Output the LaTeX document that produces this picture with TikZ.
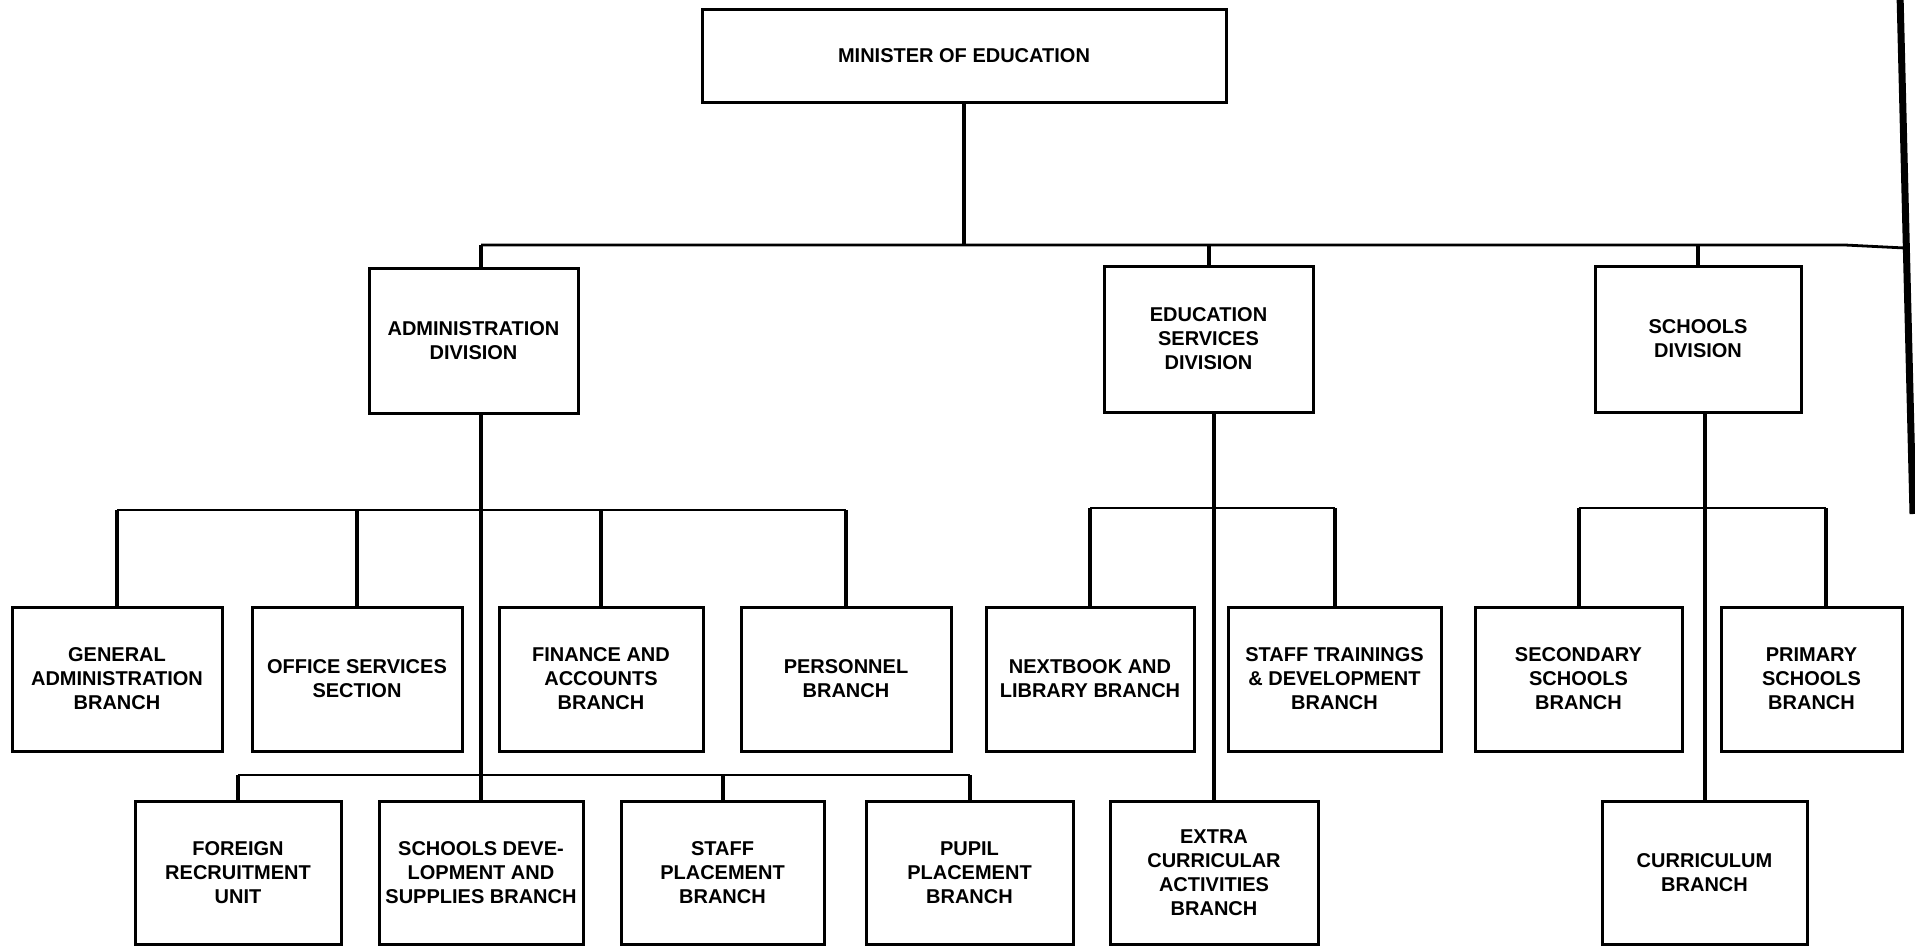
\documentclass[tikz,border=0pt]{standalone}
\usepackage{fontspec}
\setmainfont{Liberation Sans}
\tikzset{
  obox/.style={draw=black, line width=3pt, fill=white, rectangle, align=center, inner sep=2pt,
    font=\bfseries\fontsize{20}{24}\selectfont},
  bus/.style={draw=black, line width=2.8pt},
  drop/.style={draw=black, line width=4pt},
  edgeline/.style={draw=black, line width=7pt}
}
\newcommand\orgbox[6]{\node[obox, minimum width={(#4)-(#2)}, minimum height={(#5)-(#3)}] (#1) at ({((#2)+(#4))/2},{((#3)+(#5))/2}) {#6};}
\begin{document}
\begin{tikzpicture}[x=1pt,y=-1pt]
\useasboundingbox (0,0) rectangle (1915,948);
% boxes
\orgbox{min}{702}{9}{1226}{102}{MINISTER OF EDUCATION}
\orgbox{adm}{369}{268}{578}{413}{ADMINISTRATION\\DIVISION}
\orgbox{edu}{1104}{266}{1313}{412}{EDUCATION\\SERVICES\\DIVISION}
\orgbox{sch}{1595}{266}{1801}{412}{SCHOOLS\\DIVISION}
% row 1
\orgbox{ga}{12}{607}{222}{751}{GENERAL\\ADMINISTRATION\\BRANCH}
\orgbox{os}{252}{607}{462}{751}{OFFICE SERVICES\\SECTION}
\orgbox{fa}{499}{607}{703}{751}{FINANCE AND\\ACCOUNTS\\BRANCH}
\orgbox{pe}{741}{607}{951}{751}{PERSONNEL\\BRANCH}
\orgbox{tb}{986}{607}{1194}{751}{NEXTBOOK AND\\LIBRARY BRANCH}
\orgbox{st}{1228}{607}{1441}{751}{STAFF TRAININGS\\\& DEVELOPMENT\\BRANCH}
\orgbox{se}{1475}{607}{1682}{751}{SECONDARY\\SCHOOLS\\BRANCH}
\orgbox{pr}{1721}{607}{1902}{751}{PRIMARY\\SCHOOLS\\BRANCH}
% row 2
\orgbox{fr}{135}{801}{341}{944}{FOREIGN\\RECRUITMENT\\UNIT}
\orgbox{sds}{379}{801}{583}{944}{SCHOOLS DEVE-\\LOPMENT AND\\SUPPLIES BRANCH}
\orgbox{sp}{621}{801}{824}{944}{STAFF\\PLACEMENT\\BRANCH}
\orgbox{pp}{866}{801}{1073}{944}{PUPIL\\PLACEMENT\\BRANCH}
\orgbox{ec}{1110}{801}{1318}{944}{EXTRA\\CURRICULAR\\ACTIVITIES\\BRANCH}
\orgbox{cu}{1602}{801}{1807}{944}{CURRICULUM\\BRANCH}
% coordinates
\coordinate (tbus) at (481,245);
\coordinate (tbusK) at (1845,245);
\coordinate (tbusR) at (1905,248);
\coordinate (abus) at (0,510);
\coordinate (lbus) at (0,775);
\coordinate (ebus) at (0,508);
\coordinate (sbus) at (0,508);
\coordinate (pdrop) at (1826,508);
\coordinate (rtop) at (1900,-6);
\coordinate (rbot) at (1913,514);
% right edge line
\draw[edgeline] (rtop) -- (rbot);
% top level
\draw[drop] (min.south) -- (min.south |- tbus);
\draw[bus] (tbus) -- (tbusK) -- (tbusR);
\draw[drop] (tbus) -- (tbus |- adm.north);
\draw[drop] (edu.north |- tbus) -- (edu.north);
\draw[drop] (sch.north |- tbus) -- (sch.north);
% administration
\draw[drop] (sds.north |- adm.south) -- (sds.north);
\draw[bus] (abus -| ga.north) -- (abus -| pe.north);
\foreach \n in {ga,os,fa,pe} \draw[drop] (abus -| \n.north) -- (\n.north);
\draw[bus] (lbus -| fr.north) -- (lbus -| pp.north);
\foreach \n in {fr,sp,pp} \draw[drop] (lbus -| \n.north) -- (\n.north);
% education
\draw[drop] (ec.north |- edu.south) -- (ec.north);
\draw[bus] (ebus -| tb.north) -- (ebus -| st.north);
\foreach \n in {tb,st} \draw[drop] (ebus -| \n.north) -- (\n.north);
% schools
\draw[drop] (cu.north |- sch.south) -- (cu.north);
\draw[bus] (sbus -| se.north) -- (pdrop);
\draw[drop] (sbus -| se.north) -- (se.north);
\draw[drop] (pdrop) -- (pdrop |- pr.north);
\end{tikzpicture}
\end{document}
